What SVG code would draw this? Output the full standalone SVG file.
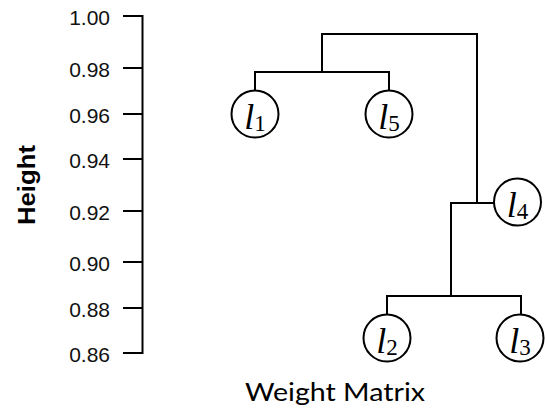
<svg xmlns="http://www.w3.org/2000/svg" width="545" height="413" viewBox="0 0 545 413">
  <style>
    .ln { fill: none; stroke: #000; stroke-width: 2; stroke-linecap: square; }
    .node { fill: #fff; stroke: #000; stroke-width: 2; }
    .tick { font-family: "Liberation Sans", Arial, sans-serif; font-size: 21px; fill: #111; text-anchor: end; }
    .lab { font-family: "Liberation Serif", "Times New Roman", serif; fill: #000; text-anchor: middle; }
    .lab .v { font-style: italic; font-size: 36px; }
    .lab .s { font-size: 23px; }
  </style>
  <rect width="545" height="413" fill="#fff"/>

  <!-- height axis -->
  <g id="axis">
    <path class="ln" d="M142.5 16 V353 M124 16 H142.5 M124 68 H142.5 M124 114 H142.5 M124 159 H142.5 M124 211 H142.5 M124 262 H142.5 M124 308 H142.5 M124 353 H142.5"/>
    <text class="tick" x="110" y="25">1.00</text>
    <text class="tick" x="110" y="77">0.98</text>
    <text class="tick" x="110" y="123">0.96</text>
    <text class="tick" x="110" y="168">0.94</text>
    <text class="tick" x="110" y="220">0.92</text>
    <text class="tick" x="110" y="271">0.90</text>
    <text class="tick" x="110" y="317">0.88</text>
    <text class="tick" x="110" y="362">0.86</text>
    <text transform="translate(35,185) rotate(-90)" text-anchor="middle" font-family="'Liberation Sans', Arial, sans-serif" font-weight="bold" font-size="24" textLength="80" lengthAdjust="spacingAndGlyphs">Height</text>
  </g>

  <!-- dendrogram links -->
  <g id="connectors">
    <path class="ln" d="M322 72 V34 H477 V203"/>
    <path class="ln" d="M255 92 V72 H389 V92"/>
    <path class="ln" d="M451 296 V203 H494"/>
    <path class="ln" d="M387 315 V296 H521 V315"/>
  </g>

  <g id="l1">
    <circle class="node" cx="255" cy="114" r="23.5"/>
    <text class="lab" x="255" y="129"><tspan class="v">l</tspan><tspan class="s" dy="2">1</tspan></text>
  </g>
  <g id="l5">
    <circle class="node" cx="389" cy="114" r="23.5"/>
    <text class="lab" x="389" y="129"><tspan class="v">l</tspan><tspan class="s" dy="2">5</tspan></text>
  </g>
  <g id="l4">
    <circle class="node" cx="517.5" cy="202" r="23.5"/>
    <text class="lab" x="517.5" y="217"><tspan class="v">l</tspan><tspan class="s" dy="2">4</tspan></text>
  </g>
  <g id="l2">
    <circle class="node" cx="387" cy="338" r="23.5"/>
    <text class="lab" x="387" y="353"><tspan class="v">l</tspan><tspan class="s" dy="2">2</tspan></text>
  </g>
  <g id="l3">
    <circle class="node" cx="520" cy="338" r="23.5"/>
    <text class="lab" x="520" y="353"><tspan class="v">l</tspan><tspan class="s" dy="2">3</tspan></text>
  </g>

  <text x="335" y="401" text-anchor="middle" font-family="Lato, 'Open Sans', sans-serif" font-size="25" textLength="180" lengthAdjust="spacingAndGlyphs">Weight Matrix</text>
</svg>
